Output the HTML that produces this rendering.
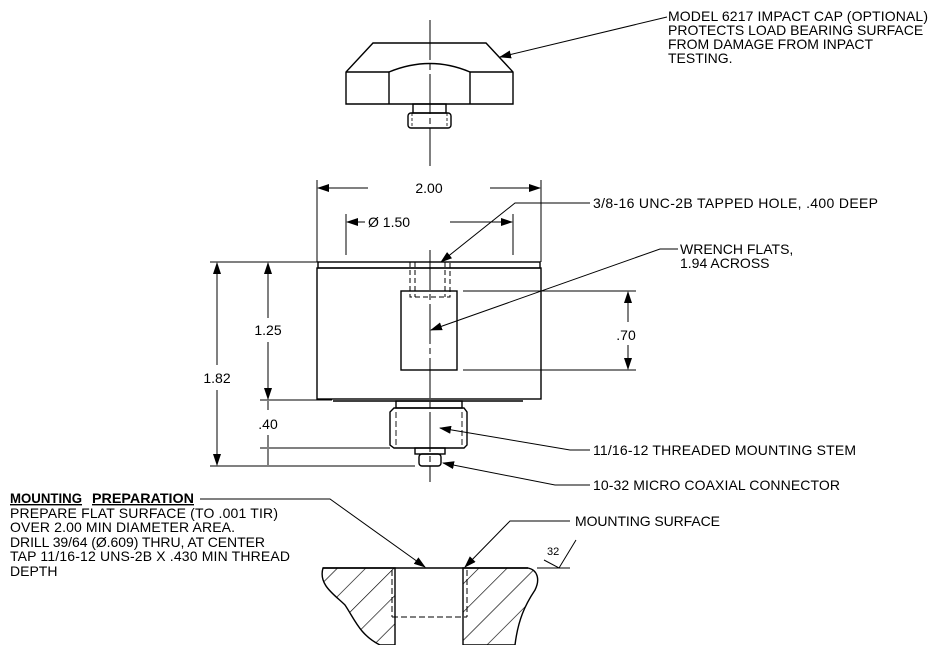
<!DOCTYPE html>
<html><head><meta charset="utf-8"><style>
html,body{margin:0;padding:0;background:#fff;}
svg{display:block;}
text{font-family:"Liberation Sans",Arial,sans-serif;font-size:14px;fill:#000;}
</style></head><body>
<svg width="933" height="645" viewBox="0 0 933 645" xmlns="http://www.w3.org/2000/svg">
<defs>
<marker id="a" markerWidth="12" markerHeight="8" refX="11" refY="4" orient="auto" markerUnits="userSpaceOnUse"><path d="M0,0 L12,4 L0,8 Z" fill="#000"/></marker>
<pattern id="h" width="20" height="20" patternUnits="userSpaceOnUse" patternTransform="rotate(45)"><line x1="0" y1="0" x2="0" y2="20" stroke="#000" stroke-width="1.3"/></pattern>
</defs>
<g stroke="#000" fill="none" stroke-width="1.4">
<line x1="430" y1="20" x2="430" y2="166" stroke-dasharray="40,4,6,4" stroke-width="1"/>
<line x1="430" y1="250" x2="430" y2="482" stroke-dasharray="40,4,6,4" stroke-width="1"/>
<path d="M373,43 L486,43 L513,72 L513,104 L346,104 L346,72 Z"/>
<line x1="346" y1="72" x2="389" y2="72"/><line x1="470" y1="72" x2="513" y2="72"/>
<line x1="389" y1="72" x2="389" y2="104"/><line x1="470" y1="72" x2="470" y2="104"/>
<path d="M389,72 Q430,55 470,72"/>
<rect x="413" y="104" width="33" height="9"/>
<rect x="408" y="113" width="43" height="15" rx="3"/>
<line x1="412" y1="113" x2="412" y2="128" stroke-width="0.8" stroke-dasharray="3,2"/>
<line x1="447" y1="113" x2="447" y2="128" stroke-width="0.8" stroke-dasharray="3,2"/>
<rect x="318" y="262" width="222" height="6"/>
<rect x="317" y="268" width="224" height="131"/>
<line x1="333" y1="401" x2="523" y2="401"/>
<rect x="401" y="291" width="56" height="79"/>
<path d="M410,262 V297 H450 V262" stroke-dasharray="5,3" stroke-width="1"/>
<path d="M415,262 V297 M445,262 V297" stroke-dasharray="5,3" stroke-width="1"/>
<rect x="396" y="401" width="66" height="7"/>
<path d="M394,408 H464 L467,412 V445 L464,448 H394 L390,445 V412 Z"/>
<line x1="396" y1="412" x2="396" y2="445" stroke-dasharray="6,3" stroke-width="0.9"/>
<line x1="462" y1="412" x2="462" y2="445" stroke-dasharray="6,3" stroke-width="0.9"/>
<rect x="415" y="448" width="30" height="6"/>
<rect x="419" y="454" width="22" height="12" rx="3"/>
<line x1="317" y1="180" x2="317" y2="262" stroke-width="1"/>
<line x1="541" y1="180" x2="541" y2="262" stroke-width="1"/>
<line x1="368" y1="188" x2="318" y2="188" marker-end="url(#a)" stroke-width="1"/>
<line x1="490" y1="188" x2="540" y2="188" marker-end="url(#a)" stroke-width="1"/>
<line x1="346" y1="214" x2="346" y2="255" stroke-width="1"/>
<line x1="513" y1="214" x2="513" y2="255" stroke-width="1"/>
<line x1="365" y1="222" x2="347" y2="222" marker-end="url(#a)" stroke-width="1"/>
<line x1="450" y1="222" x2="512" y2="222" marker-end="url(#a)" stroke-width="1"/>
<line x1="210" y1="262" x2="318" y2="262" stroke-width="1"/>
<line x1="260" y1="400" x2="332" y2="400" stroke-width="1"/>
<line x1="260" y1="448" x2="390" y2="448" stroke-width="1"/>
<line x1="210" y1="466" x2="415" y2="466" stroke-width="1"/>
<line x1="217" y1="365" x2="217" y2="263" marker-end="url(#a)" stroke-width="1"/>
<line x1="217" y1="390" x2="217" y2="465" marker-end="url(#a)" stroke-width="1"/>
<line x1="268" y1="318" x2="268" y2="263" marker-end="url(#a)" stroke-width="1"/>
<line x1="268" y1="342" x2="268" y2="399" marker-end="url(#a)" stroke-width="1"/>
<line x1="268" y1="410" x2="268" y2="401" stroke-width="1"/>
<line x1="268" y1="435" x2="268" y2="447" stroke-width="1"/>
<line x1="268" y1="449" x2="268" y2="465" stroke-width="1"/>
<line x1="463" y1="291" x2="636" y2="291" stroke-width="1"/>
<line x1="463" y1="370" x2="636" y2="370" stroke-width="1"/>
<line x1="628" y1="322" x2="628" y2="292" marker-end="url(#a)" stroke-width="1"/>
<line x1="628" y1="345" x2="628" y2="369" marker-end="url(#a)" stroke-width="1"/>
<polyline points="667,17 500,57" marker-end="url(#a)" stroke-width="1"/>
<polyline points="590,203 515,203 441,262" marker-end="url(#a)" stroke-width="1"/>
<polyline points="678,249 660,249 431,330" marker-end="url(#a)" stroke-width="1"/>
<polyline points="590,450 570,450 440,428" marker-end="url(#a)" stroke-width="1"/>
<polyline points="590,485 555,485 443,463" marker-end="url(#a)" stroke-width="1"/>
<polyline points="200,499 330,499 425,567" marker-end="url(#a)" stroke-width="1"/>
<polyline points="570,521 510,521 465,567" marker-end="url(#a)" stroke-width="1"/>
<path d="M323,568 L395,568 L395,645 L380,645 C360,635 355,620 345,605 C335,595 318,585 323,568 Z" fill="url(#h)"/>
<path d="M463,568 L528,568 C538,570 540,580 535,590 C525,605 518,620 515,645 L463,645 Z" fill="url(#h)"/>
<line x1="323" y1="568" x2="528" y2="568"/>
<line x1="392" y1="570" x2="392" y2="617" stroke-dasharray="6,3" stroke-width="1"/>
<line x1="467" y1="570" x2="467" y2="617" stroke-dasharray="6,3" stroke-width="1"/>
<line x1="392" y1="617" x2="467" y2="617" stroke-dasharray="6,3" stroke-width="1"/>
<polyline points="537,568 570,568" stroke-width="1"/>
<polyline points="544,560 559,568 576,540" stroke-width="1"/>
</g>
<g>
<text x="668" y="21" textLength="260">MODEL 6217 IMPACT CAP (OPTIONAL)</text>
<text x="668" y="35">PROTECTS LOAD BEARING SURFACE</text>
<text x="668" y="49">FROM DAMAGE FROM INPACT</text>
<text x="668" y="63">TESTING.</text>
<text x="429" y="193" text-anchor="middle">2.00</text>
<text x="368" y="227">Ø 1.50</text>
<text x="593" y="208" textLength="285">3/8-16 UNC-2B TAPPED HOLE, .400 DEEP</text>
<text x="680" y="254">WRENCH FLATS,</text>
<text x="680" y="268">1.94 ACROSS</text>
<text x="268" y="335" text-anchor="middle">1.25</text>
<text x="217" y="383" text-anchor="middle">1.82</text>
<text x="268" y="429" text-anchor="middle">.40</text>
<text x="626" y="340" text-anchor="middle">.70</text>
<text x="593" y="455" textLength="263">11/16-12 THREADED MOUNTING STEM</text>
<text x="593" y="490" textLength="247">10-32 MICRO COAXIAL CONNECTOR</text>
<text x="575" y="526" textLength="145">MOUNTING SURFACE</text>
<text x="547" y="555" style="font-size:11px">32</text>
<text x="10" y="503" style="font-weight:bold;text-decoration:underline" textLength="72" lengthAdjust="spacingAndGlyphs">MOUNTING</text>
<text x="92" y="503" style="font-weight:bold;text-decoration:underline" textLength="102" lengthAdjust="spacingAndGlyphs">PREPARATION</text>
<text x="10" y="518" textLength="268">PREPARE FLAT SURFACE (TO .001 TIR)</text>
<text x="10" y="532" textLength="225">OVER 2.00 MIN DIAMETER AREA.</text>
<text x="10" y="547" textLength="255">DRILL 39/64 (Ø.609) THRU, AT CENTER</text>
<text x="10" y="561" textLength="280">TAP 11/16-12 UNS-2B X .430 MIN THREAD</text>
<text x="10" y="576">DEPTH</text>
</g>
</svg>
</body></html>
